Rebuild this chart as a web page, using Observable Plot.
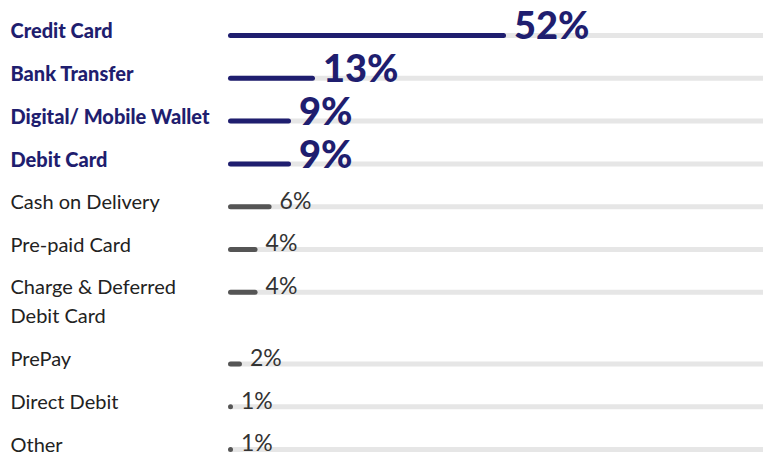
<!DOCTYPE html>
<html>
<head>
<meta charset="utf-8">
<script src="https://cdn.jsdelivr.net/npm/d3@7"></script>
<script src="https://cdn.jsdelivr.net/npm/@observablehq/plot@0.6"></script>
<style>
  html, body { margin: 0; padding: 0; background: #fff; }
  #chart svg { display: block; }
</style>
</head>
<body>
<div id="chart"></div>
<script>
// Data
const categories = [
  "Credit Card",
  "Bank Transfer",
  "Digital/ Mobile Wallet",
  "Debit Card",
  "Cash on Delivery",
  "Pre-paid Card",
  "Charge & Deferred\nDebit Card",
  "PrePay",
  "Direct Debit",
  "Other"
];
const shares = [52, 13, 9, 9, 6, 4, 4, 2, 1, 1];
const featured = [true, true, true, true, false, false, false, false, false, false];

// Styles
const NAVY = "#1f1e6f";
const BAR_GRAY = "#555555";
const TRACK = "#e6e6e6";
const TEXT = "#222222";
const FONT = "Lato, 'Source Sans Pro', sans-serif";
const EXTRA_LINE = 0.672; // extra row height for each additional label line
const W = 763, H = 455;
const X_RANGE = [230.5, 503.5];

let acc = 0;
const data = categories.map((label, i) => {
  const lines = label.split("\n").length;
  const row = acc;
  acc += 1 + (lines - 1) * EXTRA_LINE;
  return { label, value: shares[i], featured: featured[i], row, text: shares[i] + "%" };
});
const lastRow = data[data.length - 1].row;
const minV = d3.min(shares), maxV = d3.max(shares);
// value that corresponds to the right edge, so the tracks run to the edge
const trackEnd = d3.scalePow().exponent(0.8).domain([minV, maxV]).range(X_RANGE).invert(W + 5);

const major = data.filter(d => d.featured);
const minor = data.filter(d => !d.featured);

const chart = Plot.plot({
  width: W,
  height: H,
  marginLeft: 0,
  marginRight: 0,
  marginTop: 0,
  marginBottom: 0,
  x: { type: "pow", exponent: 0.8, domain: [minV, maxV], range: X_RANGE, axis: null, clamp: false },
  y: { type: "linear", domain: [0, lastRow], range: [35, 449], axis: null },
  marks: [
    // background tracks
    Plot.ruleY(data, { y: "row", x1: d => minV, x2: d => trackEnd, stroke: TRACK, strokeWidth: 5 }),
    // bars
    Plot.ruleY(data, {
      y: "row", x1: d => minV, x2: "value",
      stroke: d => d.featured ? NAVY : BAR_GRAY,
      strokeWidth: 5, strokeLinecap: "round"
    }),
    // category labels
    Plot.text(major, {
      y: "row", text: "label", frameAnchor: "left", dx: 10, textAnchor: "start",
      lineAnchor: "top", dy: -11.5, fill: NAVY, fontSize: 20, fontWeight: 900, fontFamily: FONT
    }),
    Plot.text(minor, {
      y: "row", text: "label", frameAnchor: "left", dx: 10, textAnchor: "start",
      lineAnchor: "top", dy: -18.5, lineHeight: 1.45, fill: TEXT, fontSize: 20, fontWeight: 400, fontFamily: FONT
    }),
    // value labels
    Plot.text(major, {
      x: "value", y: "row", text: "text", textAnchor: "start", dx: 10, dy: -8.2,
      fill: NAVY, fontSize: 38, fontWeight: 900, fontFamily: FONT
    }),
    Plot.text(minor, {
      x: "value", y: "row", text: "text", textAnchor: "start", dx: 10, dy: -5.5,
      fill: "#333", fontSize: 23, fontWeight: 400, fontFamily: FONT
    })
  ]
});
document.getElementById("chart").appendChild(chart);
</script>
</body>
</html>
